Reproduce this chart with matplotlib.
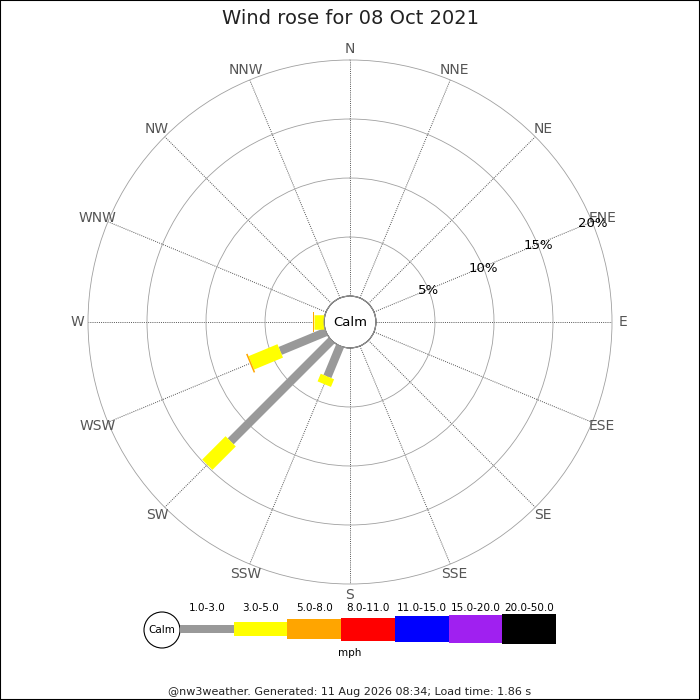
import numpy as np
import matplotlib
matplotlib.use('Agg')
import matplotlib.pyplot as plt
from matplotlib.patches import Rectangle, Circle

# 16 compass points, clockwise from north
DIRECTIONS = ["N", "NNE", "NE", "ENE", "E", "ESE", "SE", "SSE",
              "S", "SSW", "SW", "WSW", "W", "WNW", "NW", "NNW"]
BEARINGS = np.arange(16) * 22.5

SPEED_BINS = ["1.0-3.0", "3.0-5.0", "5.0-8.0", "8.0-11.0",
              "11.0-15.0", "15.0-20.0", "20.0-50.0"]
BIN_COLORS = ["#999999", "#ffff00", "#ffa500", "#ff0000",
              "#0000ff", "#a020f0", "#000000"]

# frequency (%) per direction for each speed bin
#                 N   NNE NE  ENE E   ESE SE  SSE S   SSW   SW    WSW   W     WNW NW  NNW
freq_1_3   = [0,  0,  0,  0,  0,  0,  0,  0,  0,  2.8,  12.1, 4.2,  0.0,  0,  0,  0]
freq_3_5   = [0,  0,  0,  0,  0,  0,  0,  0,  0,  0.7,  2.8,  2.65, 0.85, 0,  0,  0]
freq_5_8   = [0,  0,  0,  0,  0,  0,  0,  0,  0,  0.0,  0.0,  0.13, 0.1,  0,  0,  0]
freq_8_11  = [0] * 16
freq_11_15 = [0] * 16
freq_15_20 = [0] * 16
freq_20_50 = [0] * 16

SERIES = [freq_1_3, freq_3_5, freq_5_8, freq_8_11, freq_11_15, freq_15_20, freq_20_50]

RINGS = [5, 10, 15, 20]
TITLE = "Wind rose for 08 Oct 2021"
FOOTER = "@nw3weather. Generated: 11 Aug 2026 08:34; Load time: 1.86 s"

# bar thickness in pixels for each speed bin
BAR_PX = [8.5, 14.5, 20, 23, 26, 28, 30]
PX2PT = 72 / 100.0
RING_COLOR = '#a0a0a0'

fig = plt.figure(figsize=(7, 7), dpi=100)
fig.patch.set_facecolor('white')

# polar axes: centre at (350, 322) px, outer radius 262 px
cx, cy, R = 350, 322, 262
ax = fig.add_axes([(cx - R) / 700, (700 - cy - R) / 700, 2 * R / 700, 2 * R / 700],
                  projection='polar')
ax.set_theta_zero_location('N')
ax.set_theta_direction(-1)
ax.set_ylim(0, 20)
ax.set_rorigin(-2.2)

thetas = np.radians(BEARINGS)
ax.set_xticks(thetas)
ax.set_xticklabels([])
ax.set_yticks(RINGS[:-1])
ax.set_yticklabels([])
ax.xaxis.grid(True, color='#555555', linestyle=(0, (1, 1.2)), linewidth=0.7)
ax.yaxis.grid(True, color=RING_COLOR, linestyle='-', linewidth=0.6)
for name, sp in ax.spines.items():
    sp.set_visible(name == 'polar')
ax.spines['polar'].set_color(RING_COLOR)
ax.spines['polar'].set_linewidth(0.6)
ax.tick_params(length=0)

# calm circle
circ_t = np.linspace(0, 2 * np.pi, 361)
ax.plot(circ_t, np.zeros_like(circ_t), color='#999999', lw=0.8, clip_on=False, zorder=4)
ax.text(0, -2.2, "Calm", ha='center', va='center', fontsize=9.5, zorder=5)

# stacked bars
for i, d in enumerate(DIRECTIONS):
    base = 0.0
    for k, vals in enumerate(SERIES):
        v = vals[i]
        if v <= 0:
            continue
        ax.plot([thetas[i], thetas[i]], [base, base + v], color=BIN_COLORS[k],
                lw=BAR_PX[k] * PX2PT, solid_capstyle='butt', zorder=3 + k * 0.01)
        base += v

# direction labels
for t, d in zip(thetas, DIRECTIONS):
    ax.text(t, 20.93, d, ha='center', va='center', fontsize=10, color='#555555',
            clip_on=False)

# ring labels along ENE
for r in RINGS:
    ax.text(np.radians(68), r, f"{r}%", ha='center', va='center', fontsize=9.5,
            color='black', clip_on=False, zorder=6)

fig.text(0.5, 1 - 24 / 700, TITLE, ha='center', va='baseline', fontsize=14, color='#222222')
fig.text(0.5, 1 - 695 / 700, FOOTER, ha='center', va='baseline', fontsize=8, color='#222222')

# legend in pixel coordinates
lg = fig.add_axes([0, 0, 1, 1])
lg.set_xlim(0, 700)
lg.set_ylim(700, 0)
lg.axis('off')
lg.add_patch(Circle((162, 630), 18, facecolor='white', edgecolor='black', lw=0.8))
lg.text(162, 630, "Calm", ha='center', va='center', fontsize=7.5)
x0, bw, yc = 180, 53.7, 629
for k, (lab, col) in enumerate(zip(SPEED_BINS, BIN_COLORS)):
    h = BAR_PX[k]
    lg.add_patch(Rectangle((x0 + k * bw, yc - h / 2), bw, h, facecolor=col,
                           edgecolor='none'))
    lg.text(x0 + (k + 0.5) * bw, 611, lab, ha='center', va='baseline', fontsize=7.5)
lg.text(350, 653, "mph", ha='center', va='center', fontsize=7.5)

# frame around image
fig.patches.append(Rectangle((0, 0), 1, 1, transform=fig.transFigure, fill=False,
                             edgecolor='black', lw=1.5))

fig.savefig('out.png', dpi=100)
